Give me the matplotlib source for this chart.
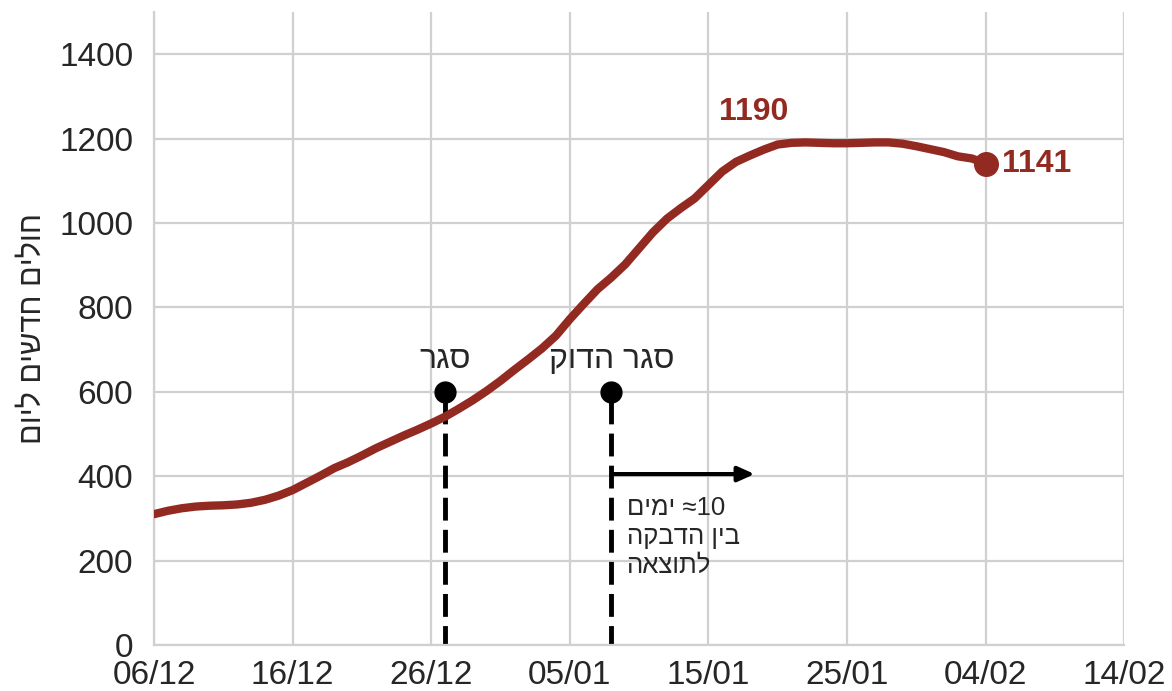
import numpy as np
import pandas as pd
import matplotlib
matplotlib.use('Agg')
import matplotlib.pyplot as plt
import matplotlib.dates as mdates

plt.rcParams['font.family'] = ['Liberation Sans', 'DejaVu Sans']

# daily new patients, 06/12/2020 .. 04/02/2021
dates = pd.date_range('2020-12-06', '2021-02-04', freq='D')
cases = [310, 318, 324, 328, 330, 331, 333, 337, 344, 354,
         367, 384, 401, 419, 433, 449, 466, 481, 496, 510,
         525, 541, 560, 580, 602, 626, 652, 677, 703, 733,
         772, 808, 843, 871, 902, 940, 978, 1010, 1035, 1058,
         1090, 1122, 1145, 1160, 1174, 1186, 1190, 1191, 1190, 1189,
         1189, 1190, 1191, 1191, 1188, 1182, 1175, 1168, 1158, 1153,
         1141]

tick_dates = pd.date_range('2020-12-06', '2021-02-14', freq='10D')
y_ticks = [0, 200, 400, 600, 800, 1000, 1200, 1400]

lockdown_dates = [pd.Timestamp('2020-12-27'), pd.Timestamp('2021-01-08')]
lockdown_labels = ['סגר', 'סגר הדוק']
lockdown_level = 600
peak_value = 1190
last_value = cases[-1]

arrow_start = pd.Timestamp('2021-01-08')
arrow_end = pd.Timestamp('2021-01-18 08:00')
arrow_level = 405
delay_text = ['≈10 ימים', 'בין הדבקה', 'לתוצאה']
ylabel = 'חולים חדשים ליום'

red = '#932a22'
grid_col = '#d0d0d0'
text_col = '#262626'


def rtl(line):
    # matplotlib has no bidi support: lay the words out right to left by hand
    out = []
    for w in reversed(line.split(' ')):
        if any('\u0590' <= ch <= '\u05ff' for ch in w):
            w = w[::-1]
        out.append(w)
    return ' '.join(out)


fig = plt.figure(figsize=(11.72, 6.91), dpi=100)
ax = fig.add_axes([0.1314, 0.0666, 0.8278, 0.916])

ax.plot(dates, cases, color=red, lw=6, solid_capstyle='round', zorder=3)
ax.plot(dates[-1], last_value, 'o', color=red, ms=17, zorder=4)

for d, lab in zip(lockdown_dates, lockdown_labels):
    ax.plot([d, d], [lockdown_level - 22, 0], color='black', lw=3.5,
            dashes=(4.7, 1.9), zorder=2)
    ax.plot(d, lockdown_level, 'o', color='black', ms=15, zorder=5)
    ax.text(d, lockdown_level + 40, rtl(lab), ha='center', va='bottom',
            fontsize=23, color=text_col)

ax.annotate('', xy=(arrow_end, arrow_level), xytext=(arrow_start, arrow_level),
            arrowprops=dict(arrowstyle='-|>,head_length=1.0,head_width=0.45',
                            color='black', lw=3, shrinkA=0, shrinkB=0),
            zorder=5)
ax.text(arrow_start + pd.Timedelta(days=1.1), 352,
        '\n'.join(rtl(t) for t in delay_text), ha='left', va='top',
        fontsize=18.5, color=text_col, linespacing=1.25)

ax.text(pd.Timestamp('2021-01-18 07:00'), 1262, str(peak_value), ha='center',
        va='center', fontsize=23, fontweight='bold', color=red)
ax.text(dates[-1] + pd.Timedelta(days=1.2), last_value, str(last_value),
        ha='left', va='center', fontsize=23, fontweight='bold', color=red)

ax.set_xlim(tick_dates[0], tick_dates[-1])
ax.set_ylim(0, 1500)
ax.set_xticks(tick_dates)
ax.xaxis.set_major_formatter(mdates.DateFormatter('%d/%m'))
ax.set_yticks(y_ticks)
ax.tick_params(length=0, labelsize=24, colors=text_col)
ax.tick_params(axis='x', pad=11)
ax.tick_params(axis='y', pad=15)
ax.grid(True, color=grid_col, lw=1.6)
ax.set_axisbelow(True)
for s in ['top', 'right']:
    ax.spines[s].set_visible(False)
for s in ['left', 'bottom']:
    ax.spines[s].set_color(grid_col)
    ax.spines[s].set_linewidth(1.6)

ax.set_ylabel(rtl(ylabel), fontsize=22, color=text_col, labelpad=8)

fig.savefig('out.png', dpi=100)
